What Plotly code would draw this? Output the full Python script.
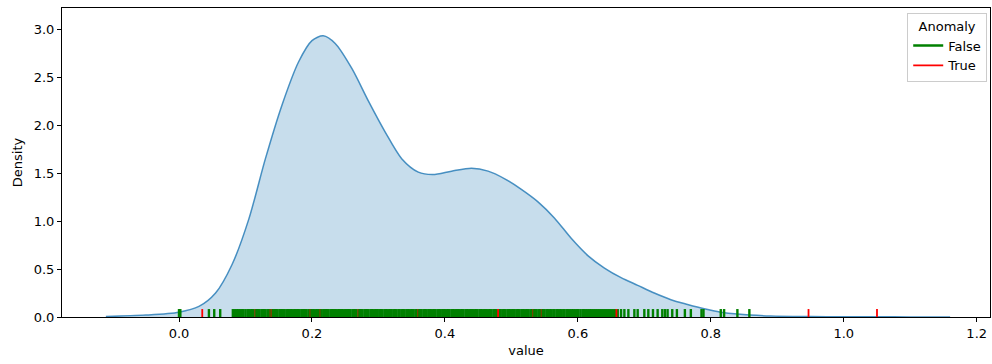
import plotly.graph_objects as go

# Kernel density estimate of "value" (x grid and density)
kde_x = [-0.11, -0.05, 0.0, 0.03, 0.055, 0.08, 0.105, 0.13, 0.155, 0.18, 0.2, 0.217,
         0.235, 0.26, 0.285, 0.31, 0.335, 0.36, 0.382, 0.41, 0.44, 0.465, 0.49, 0.515,
         0.54, 0.565, 0.59, 0.615, 0.64, 0.665, 0.69, 0.715, 0.74, 0.765, 0.79,
         0.815, 0.84, 0.89, 0.95, 1.0, 1.05, 1.1, 1.16]
kde_y = [0.005, 0.02, 0.05, 0.11, 0.25, 0.55, 1.02, 1.65, 2.21, 2.66, 2.88, 2.93,
         2.85, 2.59, 2.25, 1.93, 1.65, 1.51, 1.485, 1.52, 1.55, 1.52, 1.44, 1.33,
         1.20, 1.03, 0.82, 0.64, 0.51, 0.41, 0.33, 0.25, 0.18, 0.13, 0.085,
         0.05, 0.03, 0.01, 0.004, 0.002, 0.003, 0.001, 0.0]

# Observations flagged Anomaly = False
normal_values = [
    0.0, 0.002, 0.045, 0.053, 0.062,
    0.081, 0.084, 0.087, 0.089, 0.092, 0.095, 0.097, 0.100, 0.103, 0.105, 0.108, 0.110,
    0.112, 0.115, 0.117, 0.119, 0.121, 0.124, 0.126, 0.128, 0.130, 0.133, 0.135, 0.137,
    0.140, 0.142, 0.144, 0.146, 0.148, 0.151, 0.153, 0.155, 0.157, 0.159, 0.162, 0.164,
    0.166, 0.168, 0.170, 0.173, 0.175, 0.177, 0.179, 0.181, 0.184, 0.186, 0.188, 0.190,
    0.192, 0.195, 0.197, 0.199, 0.201, 0.203, 0.206, 0.208, 0.210, 0.212, 0.214, 0.217,
    0.219, 0.221, 0.223, 0.225, 0.228, 0.230, 0.232, 0.234, 0.236, 0.239, 0.241, 0.243,
    0.245, 0.247, 0.250, 0.252, 0.254, 0.256, 0.258, 0.261, 0.263, 0.265, 0.267, 0.270,
    0.272, 0.274, 0.276, 0.279, 0.281, 0.283, 0.285, 0.288, 0.290, 0.292, 0.295, 0.297,
    0.299, 0.302, 0.304, 0.306, 0.309, 0.311, 0.313, 0.316, 0.318, 0.320, 0.323, 0.325,
    0.327, 0.330, 0.332, 0.335, 0.337, 0.339, 0.342, 0.344, 0.346, 0.349, 0.351, 0.353,
    0.356, 0.358, 0.361, 0.363, 0.365, 0.368, 0.370, 0.372, 0.375, 0.377, 0.379, 0.382,
    0.384, 0.386, 0.389, 0.391, 0.393, 0.396, 0.398, 0.400, 0.403, 0.405, 0.407, 0.410,
    0.412, 0.414, 0.417, 0.419, 0.421, 0.424, 0.426, 0.428, 0.431, 0.433, 0.435, 0.438,
    0.440, 0.442, 0.445, 0.447, 0.449, 0.452, 0.454, 0.456, 0.459, 0.461, 0.463, 0.466,
    0.468, 0.470, 0.473, 0.475, 0.477, 0.480, 0.482, 0.484, 0.487, 0.489, 0.491, 0.494,
    0.496, 0.498, 0.501, 0.503, 0.505, 0.508, 0.510, 0.512, 0.515, 0.517, 0.519, 0.522,
    0.524, 0.526, 0.529, 0.531, 0.534, 0.536, 0.538, 0.541, 0.543, 0.546, 0.548, 0.550,
    0.553, 0.555, 0.558, 0.560, 0.563, 0.565, 0.568, 0.570, 0.573, 0.575, 0.578, 0.580,
    0.583, 0.585, 0.588, 0.591, 0.593, 0.596, 0.599, 0.601, 0.604, 0.607, 0.609, 0.612,
    0.615, 0.618, 0.620, 0.623, 0.626, 0.629, 0.632, 0.635, 0.638, 0.641, 0.644, 0.647,
    0.650, 0.653, 0.656, 0.660, 0.665, 0.670, 0.676, 0.685, 0.690, 0.700, 0.706, 0.713,
    0.720, 0.727, 0.731, 0.735, 0.742, 0.749, 0.761, 0.770, 0.786, 0.789, 0.815, 0.820,
    0.840, 0.858,
]

# Observations flagged Anomaly = True (isolated ticks, then ones inside the dense band)
anomaly_values = [0.035, 0.48, 0.658, 0.947, 1.05]
anomaly_values_in_band = [0.114, 0.137, 0.139, 0.197, 0.212, 0.269, 0.359, 0.532, 0.545]

x_ticks = [0.0, 0.2, 0.4, 0.6, 0.8, 1.0, 1.2]
y_ticks = [0.0, 0.5, 1.0, 1.5, 2.0, 2.5, 3.0]

RUG_HEIGHT = 0.083  # in density units (~2.6% of the axis)


def rug_segments(values):
    xs, ys = [], []
    for v in values:
        xs += [v, v, None]
        ys += [0, RUG_HEIGHT, None]
    return xs, ys


fig = go.Figure()

fig.add_trace(go.Scatter(
    x=kde_x, y=kde_y, mode="lines",
    line=dict(color="rgba(31,119,180,0.8)", width=1.5, shape="spline", smoothing=0.8),
    fill="tozeroy", fillcolor="rgba(31,119,180,0.25)", showlegend=False, hoverinfo="skip",
))

gx, gy = rug_segments(normal_values)
fig.add_trace(go.Scatter(x=gx, y=gy, mode="lines", name="False",
                         line=dict(color="green", width=2.4), legendgroup="False"))

rx, ry = rug_segments(anomaly_values)
fig.add_trace(go.Scatter(x=rx, y=ry, mode="lines", name="True",
                         line=dict(color="red", width=1.8), legendgroup="True"))

bx, by = rug_segments(anomaly_values_in_band)
fig.add_trace(go.Scatter(x=bx, y=by, mode="lines", name="True", showlegend=False,
                         line=dict(color="red", width=1.2), opacity=0.45, legendgroup="True"))

axis_common = dict(
    showgrid=False, zeroline=False, showline=True, linecolor="black", linewidth=1,
    mirror=True, ticks="outside", ticklen=4, tickcolor="black", tickwidth=1,
    tickfont=dict(size=13, color="black"),
)

fig.update_layout(
    width=992, height=364,
    margin=dict(l=62, r=2, t=8, b=47),
    paper_bgcolor="white", plot_bgcolor="white",
    font=dict(family="DejaVu Sans", size=13, color="black"),
    xaxis=dict(range=[-0.176, 1.22], tickvals=x_ticks, tickformat=".1f",
               title=dict(text="value", font=dict(size=13), standoff=6), **axis_common),
    yaxis=dict(range=[0, 3.22], tickvals=y_ticks, tickformat=".1f",
               title=dict(text="Density", font=dict(size=13), standoff=8), **axis_common),
    legend=dict(
        title=dict(text="Anomaly", side="top center", font=dict(size=13)),
        x=0.997, y=0.985, xanchor="right", yanchor="top",
        bordercolor="#cccccc", borderwidth=1, bgcolor="rgba(255,255,255,0.8)",
        font=dict(size=13), tracegroupgap=0, itemwidth=30,
    ),
)

fig.write_html("out.html")
